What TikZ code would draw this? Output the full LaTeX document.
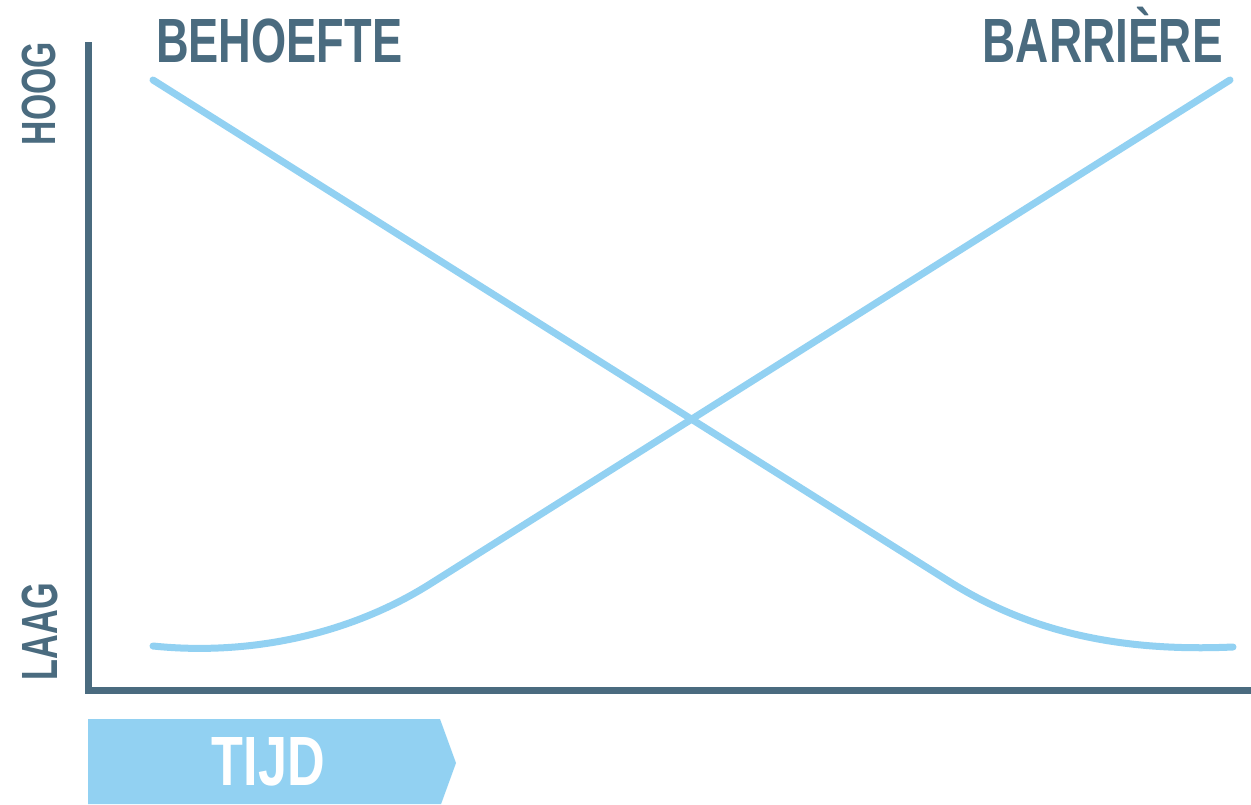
\documentclass[tikz,border=0pt]{standalone}
\usepackage{fontspec}
\setmainfont{Liberation Sans}
\usepackage{graphicx}
\definecolor{slate}{HTML}{4A6B7F}
\definecolor{sky}{HTML}{92D1F2}
\tikzset{
  axisline/.style={draw=slate, line width=7pt, line cap=butt, line join=miter},
  trend/.style={draw=sky, line width=7pt, line cap=round, line join=round},
  heading/.style={inner sep=0pt, text=slate, font=\bfseries},
  timebar/.style={fill=sky, draw=none}
}
\newcommand{\capsbox}[3]{\resizebox{#1}{#2}{\smash{#3}\vphantom{B}}}
\begin{document}
\begin{tikzpicture}[x=1pt, y=-1pt]
  \useasboundingbox (0,0) rectangle (1251,804);
  \fill[white] (0,0) rectangle (1251,804);

  % axes
  \coordinate (ytop) at (88.5,42);
  \coordinate (origin) at (88.5,690);
  \coordinate (xend) at (1251,690);
  \draw[axisline] (ytop) -- (origin) -- (xend);

  % axis labels
  \node[heading, rotate=90] (hoog) at (38.5,93.5) {\capsbox{103pt}{33pt}{HOOG}};
  \node[heading, rotate=90] (laag) at (39.5,631.5) {\capsbox{97pt}{35pt}{LAAG}};

  % series titles
  \node[heading, anchor=south west] (behoefte) at (156,63) {\capsbox{246pt}{43pt}{BEHOEFTE}};
  \node[heading, anchor=south east] (barriere) at (1223,63) {\capsbox{240pt}{43pt}{BARRIÈRE}};

  % need: falls from high to low
  \coordinate (b0) at (153,80);
  \coordinate (b1) at (950,582);
  \coordinate (b2) at (1233,647);
  \draw[trend] (b0) -- (b1) .. controls (1030,632) and (1120,652) .. (b2);

  % barrier: rises from low to high
  \coordinate (r0) at (153,646);
  \coordinate (r1) at (430,584);
  \coordinate (r2) at (1230,80);
  \draw[trend] (r0) .. controls (250,656) and (350,634.4) .. (r1) -- (r2);

  % time arrow
  \coordinate (t0) at (88,719);
  \coordinate (t1) at (440,719);
  \coordinate (t2) at (456,763);
  \coordinate (t3) at (441.1,804);
  \coordinate (t4) at (88,804);
  \fill[timebar] (t0) -- (t1) -- (t2) -- (t3) -- (t4) -- cycle;
  \node[inner sep=0pt, text=white, font=\bfseries] (tijd) at (268.5,761) {\capsbox{113pt}{48pt}{TIJD}};
\end{tikzpicture}
\end{document}
